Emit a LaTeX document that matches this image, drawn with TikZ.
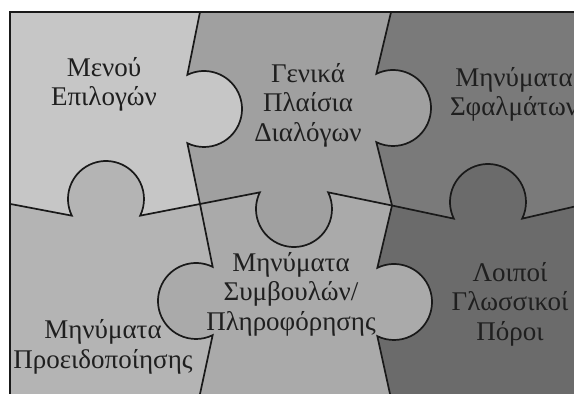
\documentclass[tikz,border=0pt]{standalone}
\usepackage{fontspec}
\setmainfont{Liberation Serif}
\definecolor{menupc}{HTML}{C6C6C6}
\definecolor{dialogpc}{HTML}{A0A0A0}
\definecolor{errorpc}{HTML}{7A7A7A}
\definecolor{warnpc}{HTML}{B4B4B4}
\definecolor{hintpc}{HTML}{AAAAAA}
\definecolor{otherpc}{HTML}{6B6B6B}
\begin{document}
\begin{tikzpicture}[x=1pt,y=-1pt,
  seam/.style={line width=1.7pt,draw=black!90},
  lbl/.style={font=\fontsize{27}{29.5}\selectfont,align=center,text=black!88,inner sep=0pt}]
\useasboundingbox (0,0) rectangle (574,394);
% knob centres
\coordinate (c1) at (204,109);
\coordinate (c2) at (196,301);
\coordinate (c3) at (393,108);
\coordinate (c4) at (394,302);
\coordinate (c5) at (106,199);
\coordinate (c6) at (294,209);
\coordinate (c7) at (488,202);
% seam ends and crossings
\coordinate (T1) at (202.4,0);
\coordinate (T2) at (393.9,0);
\coordinate (B1) at (194.4,420);
\coordinate (B2) at (395.7,420);
\coordinate (L) at (0,202);
\coordinate (R) at (600,200.7);
\coordinate (X1) at (200,204);
\coordinate (X2) at (392,205.5);
\def\seamV{(T1) -- ([shift={(-116:38)}]c1) arc[start angle=-116,end angle=116,radius=38]
  -- (X1) -- ([shift={(296:38)}]c2) arc[start angle=296,end angle=64,radius=38] -- (B1)}
\def\seamW{(T2) -- ([shift={(-116:38)}]c3) arc[start angle=-116,end angle=116,radius=38]
  -- (X2) -- ([shift={(-116:38)}]c4) arc[start angle=-116,end angle=116,radius=38] -- (B2)}
\def\seamH{(L) -- ([shift={(154:38)}]c5) arc[start angle=154,end angle=386,radius=38]
  -- (X1) -- ([shift={(206:38)}]c6) arc[start angle=206,end angle=-26,radius=38]
  -- (X2) -- ([shift={(154:38)}]c7) arc[start angle=154,end angle=386,radius=38] -- (R)}
\begin{scope}
  \clip (10,12) rectangle (600,420);
  \fill[otherpc] (0,0) rectangle (600,420);
  \begin{scope}
    \clip \seamH -- (600,0) -- (0,0) -- cycle;
    \fill[errorpc] (0,0) rectangle (600,420);
  \end{scope}
  \begin{scope}
    \clip \seamW -- (0,420) -- (0,0) -- cycle;
    \fill[hintpc] (0,0) rectangle (600,420);
    \clip \seamH -- (600,0) -- (0,0) -- cycle;
    \fill[dialogpc] (0,0) rectangle (600,420);
  \end{scope}
  \begin{scope}
    \clip \seamV -- (0,420) -- (0,0) -- cycle;
    \fill[warnpc] (0,0) rectangle (600,420);
    \clip \seamH -- (600,0) -- (0,0) -- cycle;
    \fill[menupc] (0,0) rectangle (600,420);
  \end{scope}
  \draw[seam] \seamH;
  \draw[seam] \seamV;
  \draw[seam] \seamW;
\end{scope}
\draw[seam] (600,12) -- (10,12) -- (10,420);

\node[lbl] (menu) at (104,84.5) {Μενού\\Επιλογών};
\node[lbl] (dialog) at (308,105) {Γενικά\\Πλαίσια\\Διαλόγων};
\node[lbl] (error) at (514,94.5) {Μηνύματα\\Σφαλμάτων};
\node[lbl] (hint) at (291,294) {Μηνύματα\\Συμβουλών/\\Πληροφόρησης};
\node[lbl] (warn) at (103,347) {Μηνύματα\\Προειδοποίησης};
\node[lbl] (other) at (510,304) {Λοιποί\\Γλωσσικοί\\Πόροι};
\end{tikzpicture}
\end{document}
